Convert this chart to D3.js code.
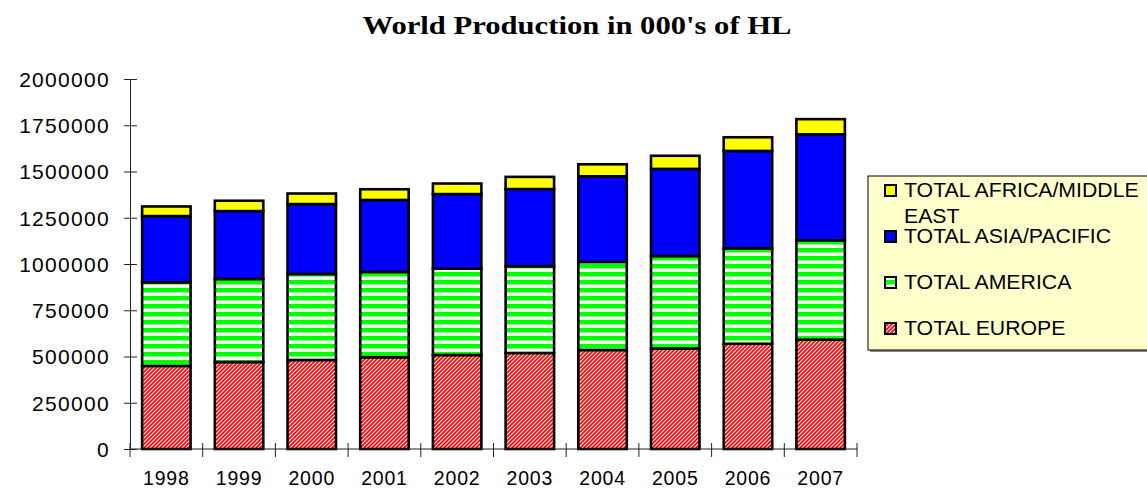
<!DOCTYPE html>
<html><head><meta charset="utf-8">
<script src="https://cdn.jsdelivr.net/npm/d3@7"></script>
<style>body{margin:0;background:#fff}svg{display:block}</style>
</head><body>
<svg id="c" width="1147" height="489"></svg>
<script>
const years = ["1998","1999","2000","2001","2002","2003","2004","2005","2006","2007"];
const europe  = [449000,470000,481000,496000,508000,519000,535000,543000,569000,591000];
const america = [452000,449000,465000,461000,467000,469000,476000,500000,516000,537000];
const asia    = [358000,367000,378000,389000,403000,417000,463000,471000,526000,573000];
const africa  = [ 52000, 56000, 57000, 58000, 57000, 66000, 65000, 71000, 74000, 82000];
const yTicks  = [0,250000,500000,750000,1000000,1250000,1500000,1750000,2000000];
const seriesNames = ["TOTAL EUROPE","TOTAL AMERICA","TOTAL ASIA/PACIFIC","TOTAL AFRICA/MIDDLE EAST"];

const svg = d3.select("#c");
const defs = svg.append("defs");
// Europe diagonal red stripes
const pe = defs.append("pattern").attr("id","pEu").attr("patternUnits","userSpaceOnUse")
  .attr("width",4).attr("height",4);
pe.append("rect").attr("width",4).attr("height",4).attr("fill","#fff");
pe.append("path").attr("d","M-1,1 l2,-2 M0,4 l4,-4 M3,5 l2,-2").attr("stroke","#ff0000").attr("stroke-width",1.7);
// America horizontal green stripes
const pa = defs.append("pattern").attr("id","pAm").attr("patternUnits","userSpaceOnUse")
  .attr("width",8).attr("height",8);
pa.append("rect").attr("width",8).attr("height",8).attr("fill","#fff");
pa.append("rect").attr("width",8).attr("height",4.5).attr("fill","#00ff00");
const fills = ["url(#pEu)","url(#pAm)","#0000ff","#ffff00"];

const x = d3.scaleBand().domain(years).range([130,857]).paddingInner(1/3).paddingOuter(1/6);
const y = d3.scaleLinear().domain([0,2000000]).range([449,79]);

const rows = years.map((yr,i)=>({year:yr, e:europe[i], a:america[i], s:asia[i], f:africa[i]}));
const stack = d3.stack().keys(["e","a","s","f"])(rows);

// Title
svg.append("text").attr("x",577).attr("y",34).attr("text-anchor","middle")
  .attr("font-family","'Liberation Serif','Times New Roman',serif").attr("font-weight","bold")
  .attr("font-size",26).attr("textLength",429).attr("lengthAdjust","spacingAndGlyphs")
  .text("World Production in 000's of HL");

// Bars
stack.forEach((layer,li)=>{
  svg.append("g").selectAll("rect").data(layer).join("rect")
    .attr("x",d=>x(d.data.year)).attr("width",x.bandwidth())
    .attr("y",d=>y(d[1])).attr("height",d=>y(d[0])-y(d[1]))
    .attr("fill",fills[li]).attr("stroke","#000").attr("stroke-width",2.6);
});

// Y axis
const gy = svg.append("g").attr("transform","translate(130,0)")
  .call(d3.axisLeft(y).tickValues(yTicks).tickFormat(d3.format("d")).tickSizeInner(6).tickSizeOuter(0).tickPadding(14));
gy.select(".domain").attr("stroke","#222");
gy.selectAll(".tick line").attr("x1",7).attr("x2",-6).attr("stroke","#222");
gy.selectAll(".tick text").attr("font-family","'Liberation Sans',Arial,sans-serif")
  .attr("font-size",21).attr("fill","#000").attr("letter-spacing","1.3px").attr("dy","0.35em");

// X axis
const gx = svg.append("g");
gx.append("line").attr("x1",x.range()[0]).attr("x2",x.range()[1]).attr("y1",y(0)).attr("y2",y(0)).attr("stroke","#222");
d3.range(years.length+1).forEach(i=>{
  const xp = x.range()[0] + i*x.step();
  gx.append("line").attr("x1",xp).attr("x2",xp).attr("y1",y(0)-6).attr("y2",y(0)+8).attr("stroke","#222");
});
gx.selectAll("text").data(years).join("text")
  .attr("x",d=>x(d)+x.bandwidth()/2).attr("y",485).attr("text-anchor","middle")
  .attr("font-family","'Liberation Sans',Arial,sans-serif").attr("font-size",19.5)
  .attr("letter-spacing","0.8px").text(d=>d);

// Legend
const lg = svg.append("g");
lg.append("rect").attr("x",870).attr("y",178).attr("width",290).attr("height",174).attr("fill","#888");
lg.append("rect").attr("x",868).attr("y",176).attr("width",290).attr("height",174)
  .attr("fill","#ffffcc").attr("stroke","#000").attr("stroke-width",1);
const legendItems = [
  {fill:fills[3], lines:["TOTAL AFRICA/MIDDLE","EAST"], base:197},
  {fill:fills[2], lines:["TOTAL ASIA/PACIFIC"], base:243},
  {fill:fills[1], lines:["TOTAL AMERICA"], base:289},
  {fill:fills[0], lines:["TOTAL EUROPE"], base:335}
];
legendItems.forEach(it=>{
  lg.append("rect").attr("x",885).attr("y",it.base-12).attr("width",11).attr("height",11)
    .attr("fill",it.fill).attr("stroke","#000").attr("stroke-width",2);
  it.lines.forEach((t,j)=>{
    lg.append("text").attr("transform",`translate(904,${it.base+j*26}) scale(1.064,1)`)
      .attr("font-family","'Liberation Sans',Arial,sans-serif").attr("font-size",20).text(t);
  });
});
</script>
</body></html>
